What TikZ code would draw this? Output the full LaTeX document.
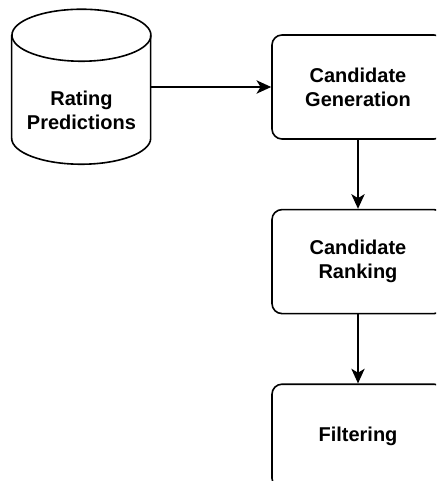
\documentclass[tikz,border=0pt]{standalone}
\usepackage{fontspec}
\setsansfont{Liberation Sans}
\usetikzlibrary{positioning,arrows.meta}

\tikzset{
    stage/.style={draw, line width=1.2pt, rounded corners=7.5pt,
        minimum width=129pt, minimum height=78pt, align=center,
        font=\sffamily\bfseries\fontsize{15}{18}\selectfont},
    store/.style={inner sep=0pt, minimum width=104.25pt, minimum height=116.25pt},
    storetext/.style={align=center, font=\sffamily\bfseries\fontsize{15}{18}\selectfont},
    flow/.style={-{Stealth[length=11pt,width=10pt,inset=3pt]}, line width=1.2pt},
}

\begin{document}
\begin{tikzpicture}[x=0.75pt, y=-0.75pt]
        \clip (0,0) rectangle (436,481);
        \node[stage] (gen) at (358,87) {Candidate\\Generation};
        \node[stage, below=51.75pt of gen] (rank) {Candidate\\Ranking};
        \node[stage, below=51.75pt of rank] (filter) {Filtering};
        \node[store, left=90pt of gen] (pred) {};
        % cylinder drawn by hand round the store node
        \draw[line width=1.2pt] (pred.north west) ++(0,26) -- ++(0,103)
            arc[start angle=180, end angle=0, x radius=69.5, y radius=26] -- ++(0,-103);
        \draw[line width=1.2pt] (pred.north) ++(0,26) ellipse[x radius=69.5, y radius=26];
        \node[storetext] (predtext) at ([yshift=-17.5pt]pred.center) {Rating\\Predictions};

        \draw[flow] (pred) -- (gen);
        \draw[flow] (gen) -- (rank);
        \draw[flow] (rank) -- (filter);
    \end{tikzpicture}
\end{document}
